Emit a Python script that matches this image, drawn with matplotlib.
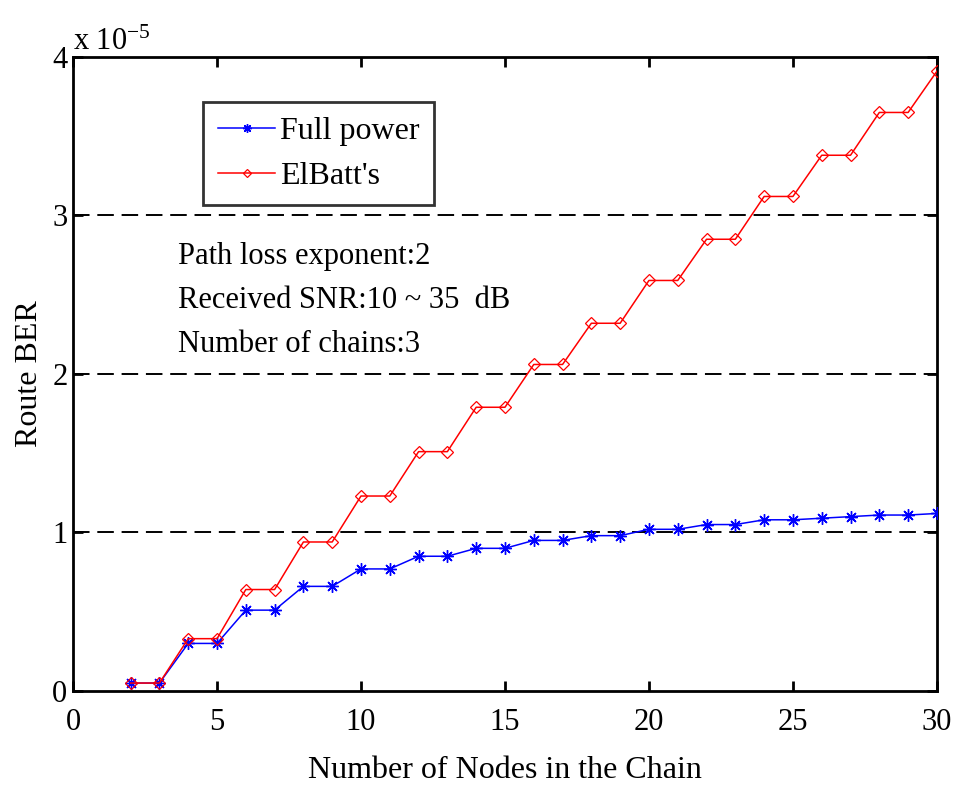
import matplotlib

matplotlib.use("Agg")
import matplotlib.pyplot as plt

# Route BER in units of 1e-5
nodes = list(range(2, 31))
full_power = [0.05, 0.05, 0.30, 0.30, 0.51, 0.51, 0.66, 0.66, 0.77, 0.77,
              0.85, 0.85, 0.90, 0.90, 0.95, 0.95, 0.98, 0.98, 1.02, 1.02,
              1.05, 1.05, 1.08, 1.08, 1.09, 1.10, 1.11, 1.11, 1.12]
elbatt = [0.05, 0.05, 0.33, 0.33, 0.64, 0.64, 0.94, 0.94, 1.23, 1.23,
          1.51, 1.51, 1.79, 1.79, 2.06, 2.06, 2.32, 2.32, 2.59, 2.59,
          2.85, 2.85, 3.12, 3.12, 3.38, 3.38, 3.65, 3.65, 3.91]
x_ticks = [0, 5, 10, 15, 20, 25, 30]
y_ticks = [0, 1, 2, 3, 4]
notes = ["Path loss exponent:2", "Received SNR:10 ~ 35  dB", "Number of chains:3"]

plt.rcParams["font.family"] = ["Liberation Serif", "DejaVu Serif"]
plt.rcParams["mathtext.fontset"] = "stix"

fig = plt.figure(figsize=(9.57, 7.86), dpi=100)
ax = fig.add_axes([0.0763, 0.1209, 0.9027, 0.8066])

for y in y_ticks[1:]:
    ax.axhline(y, color="black", linewidth=1.4, linestyle=(0, (8.5, 4)), zorder=1)

# MATLAB-style '*' marker: eight-spoke asterisk
ax.plot(nodes, full_power, color="blue", marker=(8, 2, 0), markersize=9,
        markeredgewidth=1.0, linewidth=1.1, label="Full power", zorder=3)
ax.plot(nodes, elbatt, color="red", marker="D", markersize=6.5,
        markerfacecolor="none", markeredgewidth=0.9, linewidth=1.1,
        label="ElBatt's", zorder=3)

ax.set_xlim(0, 30)
ax.set_ylim(0, 4)
ax.set_xticks(x_ticks)
ax.set_yticks(y_ticks)
ax.tick_params(direction="in", length=7, width=2, labelsize=22,
               top=True, right=True)
ax.tick_params(axis="x", pad=12)
ax.tick_params(axis="y", pad=4)
for spine in ax.spines.values():
    spine.set_linewidth(2)

ax.set_xlabel("Number of Nodes in the Chain", fontsize=23, labelpad=14)
ax.set_ylabel("Route BER", fontsize=23, labelpad=6)

ax.text(0.0, 1.0, r"x 10$^{\mathregular{-5}}$", transform=ax.transAxes,
        fontsize=22, ha="left", va="bottom")

leg = ax.legend(loc="upper left", bbox_to_anchor=(0.151, 0.929), fontsize=23,
                frameon=True, fancybox=False, edgecolor="black",
                handlelength=1.8, borderpad=0.45, labelspacing=0.5,
                handletextpad=0.15, markerscale=0.7, borderaxespad=0)
leg.get_frame().set_linewidth(2.0)

for i, line in enumerate(notes):
    ax.text(0.121, 0.685 - i * 0.0695, line, transform=ax.transAxes,
            fontsize=22, ha="left", va="center")

fig.savefig("out.png", dpi=100)
